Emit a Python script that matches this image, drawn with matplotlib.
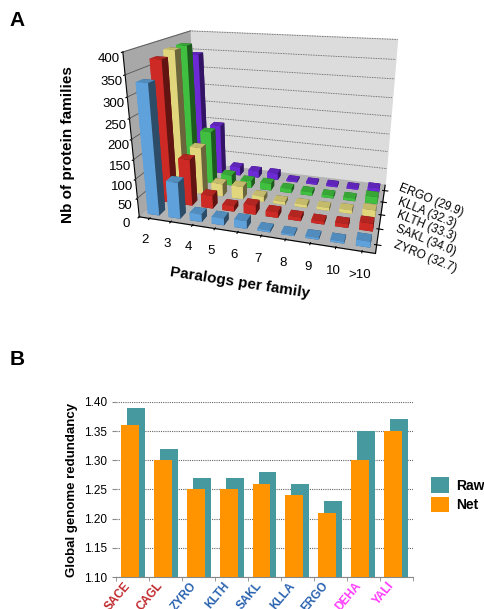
import matplotlib
matplotlib.use('Agg')
import matplotlib.pyplot as plt
import numpy as np

# panel A data
paralogs = ['2', '3', '4', '5', '6', '7', '8', '9', '10', '>10']
species_a = ['ZYRO (32.7)', 'SAKL (34.0)', 'KLTH (33.3)', 'KLLA (32.3)', 'ERGO (29.9)']
zyro = [330, 95, 20, 18, 20, 5, 4, 5, 5, 15]
sakl = [370, 125, 35, 15, 25, 15, 10, 8, 10, 20]
klth = [380, 130, 35, 35, 15, 8, 8, 8, 10, 18]
klla = [380, 150, 30, 20, 20, 12, 10, 8, 8, 20]
ergo = [345, 145, 25, 20, 20, 5, 5, 5, 5, 12]
colors_a = ['#6bb6f7', '#e8302a', '#fff28c', '#48d848', '#7a30f0']

# panel B data
species_b = ['SACE', 'CAGL', 'ZYRO', 'KLTH', 'SAKL', 'KLLA', 'ERGO', 'DEHA', 'YALI']
label_cols = ['#c0282d', '#c0282d', '#2a62b0', '#2a62b0', '#2a62b0', '#2a62b0', '#2a62b0', '#ff3cff', '#ff3cff']
raw = [1.39, 1.32, 1.27, 1.27, 1.28, 1.26, 1.23, 1.35, 1.37]
net = [1.36, 1.30, 1.25, 1.25, 1.26, 1.24, 1.21, 1.30, 1.35]

plt.rcParams['font.family'] = ['Liberation Sans', 'DejaVu Sans']

fig = plt.figure(figsize=(4.84, 6.09), dpi=100)

# ---- panel A ----
ax = fig.add_axes([0.085, 0.54, 0.93, 0.49], projection='3d')
series = [zyro, sakl, klth, klla, ergo]
dx, dy = 0.55, 0.45
for j, vals in enumerate(series):
    xs = np.arange(len(paralogs)) - dx / 2
    ys = np.full(len(paralogs), j) - dy / 2
    ax.bar3d(xs, ys, np.zeros(len(paralogs)), dx, dy, vals,
             color=colors_a[j], shade=True, edgecolor='none')

ax.set_xlim(-0.5, len(paralogs) - 0.5)
ax.set_ylim(-0.5, len(species_a) - 0.5)
ax.set_zlim(0, 400)
ax.set_proj_type('persp', focal_length=0.3)
ax.set_box_aspect((11.5, 7, 8.2), zoom=1.02)
ax.view_init(elev=19, azim=-74)

ax.xaxis.set_pane_color('#a8a8a8')
ax.yaxis.set_pane_color('#dcdcdc')
ax.zaxis.set_pane_color('#b4b4b4')
ax.grid(False)
for zt in range(50, 401, 50):
    ax.plot([-0.5, len(paralogs) - 0.5], [len(species_a) - 0.5] * 2, [zt, zt],
            color='#555555', lw=0.6, ls=(0, (1, 1)))
    ax.plot([-0.5, -0.5], [-0.5, len(species_a) - 0.5], [zt, zt],
            color='#555555', lw=0.6)

ax.set_xticks(range(len(paralogs)))
ax.set_xticklabels(paralogs, fontsize=9.5)
ax.set_yticks(range(len(species_a)))
ax.set_yticklabels(species_a, fontsize=8.5, rotation=-22, ha='left', va='center')
ax.set_zticks(range(0, 401, 50))
ax.zaxis.set_ticks_position('lower')
ax.zaxis.set_label_position('lower')
ax.tick_params(axis='z', labelsize=9.5, pad=-3)
ax.tick_params(axis='x', pad=0)
ax.tick_params(axis='y', pad=-1)
ax.set_xlabel('Paralogs per family', fontsize=11, fontweight='bold', labelpad=2)
ax.zaxis.set_rotate_label(False)
ax.set_zlabel('Nb of protein families', fontsize=11, fontweight='bold', rotation=90, labelpad=2)

fig.text(0.035, 0.967, 'A', fontsize=15, fontweight='bold', ha='center', va='center')

# ---- panel B ----
bx = fig.add_axes([0.24, 0.0525, 0.613, 0.2875])
x = np.arange(len(species_b))
w = 0.545
bx.bar(x + 0.091, raw, w, color='#46999e', label='Raw', zorder=2)
bx.bar(x - 0.091, net, w, color='#ff9400', label='Net', zorder=3)
bx.set_ylim(1.10, 1.40)
bx.set_xlim(-0.5, len(species_b) - 0.5)
bx.set_yticks(np.arange(1.10, 1.401, 0.05))
bx.set_yticklabels(['%.2f' % v for v in np.arange(1.10, 1.401, 0.05)], fontsize=8.5)
bx.yaxis.grid(True, color='#666666', lw=0.8, ls=(0, (1, 1)), zorder=0)
bx.set_axisbelow(True)
bx.set_xticks(x)
bx.set_xticklabels(species_b, rotation=50, ha='right', va='top', fontsize=8.5, fontweight='bold')
for lbl, c in zip(bx.get_xticklabels(), label_cols):
    lbl.set_color(c)
bx.set_xticks(np.arange(-0.5, len(species_b), 1), minor=True)
bx.tick_params(axis='x', which='major', length=0, pad=2)
bx.tick_params(axis='x', which='minor', length=3, color='#888888')
bx.tick_params(axis='y', length=3, color='#888888')
for s in ['top', 'right', 'left']:
    bx.spines[s].set_visible(False)
bx.spines['bottom'].set_color('#888888')
bx.set_ylabel('Global genome redundancy', fontsize=9.5, fontweight='bold', labelpad=4)
bx.legend(loc='center left', bbox_to_anchor=(1.02, 0.47), frameon=False,
          prop={'weight': 'bold', 'size': 10}, handlelength=1.3, handleheight=1.3,
          handletextpad=0.5, labelspacing=0.3)

fig.text(0.035, 0.409, 'B', fontsize=15, fontweight='bold', ha='center', va='center')

fig.savefig('out.png', dpi=100)
